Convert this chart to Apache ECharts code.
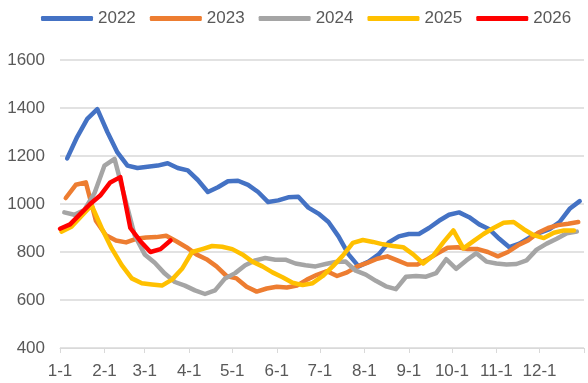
<!DOCTYPE html>
<html>
<head>
<meta charset="utf-8">
<script src="https://cdn.jsdelivr.net/npm/echarts@6/dist/echarts.min.js"></script>
<style>
html,body{margin:0;padding:0;background:#fff;}
#c{width:588px;height:383px;}
</style>
</head>
<body>
<div id="c"></div>
<script>
// x axis: day of year (Jan 1 = 1); tick labels at month starts
const monthStarts = [1, 32, 60, 91, 121, 152, 182, 213, 244, 274, 305, 335];
const monthLabels = ['1-1','2-1','3-1','4-1','5-1','6-1','7-1','8-1','9-1','10-1','11-1','12-1'];
const yTicks = [400, 600, 800, 1000, 1200, 1400, 1600];

const seriesNames = ['2022', '2023', '2024', '2025', '2026'];
// first weekly observation (day of year) for each year
const startDays = [6, 5, 4, 2, 1];

const v2022 = [1190,1280,1355,1395,1300,1215,1160,1150,1155,1160,1170,1150,1140,1100,1050,1070,1095,1097,1080,1050,1008,1015,1028,1030,985,960,925,865,790,740,760,790,840,865,875,875,900,930,955,965,945,915,895,855,820,835,860,880,895,925,980,1012];
const v2023 = [1025,1080,1090,930,870,848,840,855,860,862,868,845,820,790,770,740,700,690,655,635,648,655,652,660,685,705,720,700,715,740,755,772,782,765,748,748,770,795,818,820,812,812,800,782,800,828,848,880,900,912,918,925];
const v2024 = [965,955,975,1045,1160,1188,1030,870,790,755,710,675,660,640,625,640,690,712,745,765,775,768,768,752,745,740,750,758,760,722,706,680,657,645,697,700,697,712,770,730,765,795,760,752,748,750,765,810,835,855,878,885];
const v2025 = [885,905,950,995,900,815,745,690,670,665,660,685,730,800,812,825,822,812,790,760,740,715,695,672,662,670,700,740,785,838,850,842,832,825,820,790,752,785,840,890,815,845,875,900,922,925,895,870,858,880,890,890];
const v2026 = [897,915,958,1000,1035,1090,1112,900,845,800,812,848];

const allValues = [v2022, v2023, v2024, v2025, v2026];
const colors = ['#4472C4', '#ED7D31', '#A5A5A5', '#FFC000', '#FF0000'];

const font = '"Liberation Sans", Arial, sans-serif';

const series = seriesNames.map((name, i) => ({
  name: name,
  type: 'line',
  showSymbol: false,
  symbol: 'none',
  smooth: false,
  lineStyle: { width: 4.5, color: colors[i], cap: 'round', join: 'round' },
  itemStyle: { color: colors[i] },
  data: allValues[i].map((v, k) => [startDays[i] + 7 * k, v])
}));

const chart = echarts.init(document.getElementById('c'), null, { renderer: 'canvas' });
chart.setOption({
  animation: false,
  backgroundColor: '#ffffff',
  legend: {
    data: seriesNames,
    left: 36,
    top: 5,
    icon: 'roundRect',
    itemWidth: 52,
    itemHeight: 5,
    itemGap: 14,
    textStyle: { fontFamily: font, fontSize: 17, color: '#595959' }
  },
  grid: { left: 60, right: 4, top: 60, bottom: 35, containLabel: false },
  xAxis: {
    type: 'value',
    min: 1,
    max: 366,
    splitLine: { show: false },
    axisLine: { show: true, lineStyle: { color: '#d9d9d9', width: 1 } },
    axisTick: { show: true, length: 5, customValues: monthStarts.concat([366]), lineStyle: { color: '#d9d9d9' } },
    axisLabel: {
      customValues: monthStarts,
      formatter: function (val) {
        const idx = monthStarts.indexOf(val);
        return idx >= 0 ? monthLabels[idx] : '';
      },
      margin: 15,
      fontFamily: font,
      fontSize: 17,
      color: '#595959'
    }
  },
  yAxis: {
    type: 'value',
    min: 400,
    max: 1600,
    interval: 200,
    axisLine: { show: false },
    axisTick: { show: false },
    splitLine: { show: true, lineStyle: { color: '#d9d9d9', width: 1.5 } },
    axisLabel: {
      margin: 15,
      fontFamily: font,
      fontSize: 17,
      color: '#595959',
      formatter: function (v) { return yTicks.indexOf(v) >= 0 ? String(v) : ''; }
    }
  },
  series: series
});
</script>
</body>
</html>
